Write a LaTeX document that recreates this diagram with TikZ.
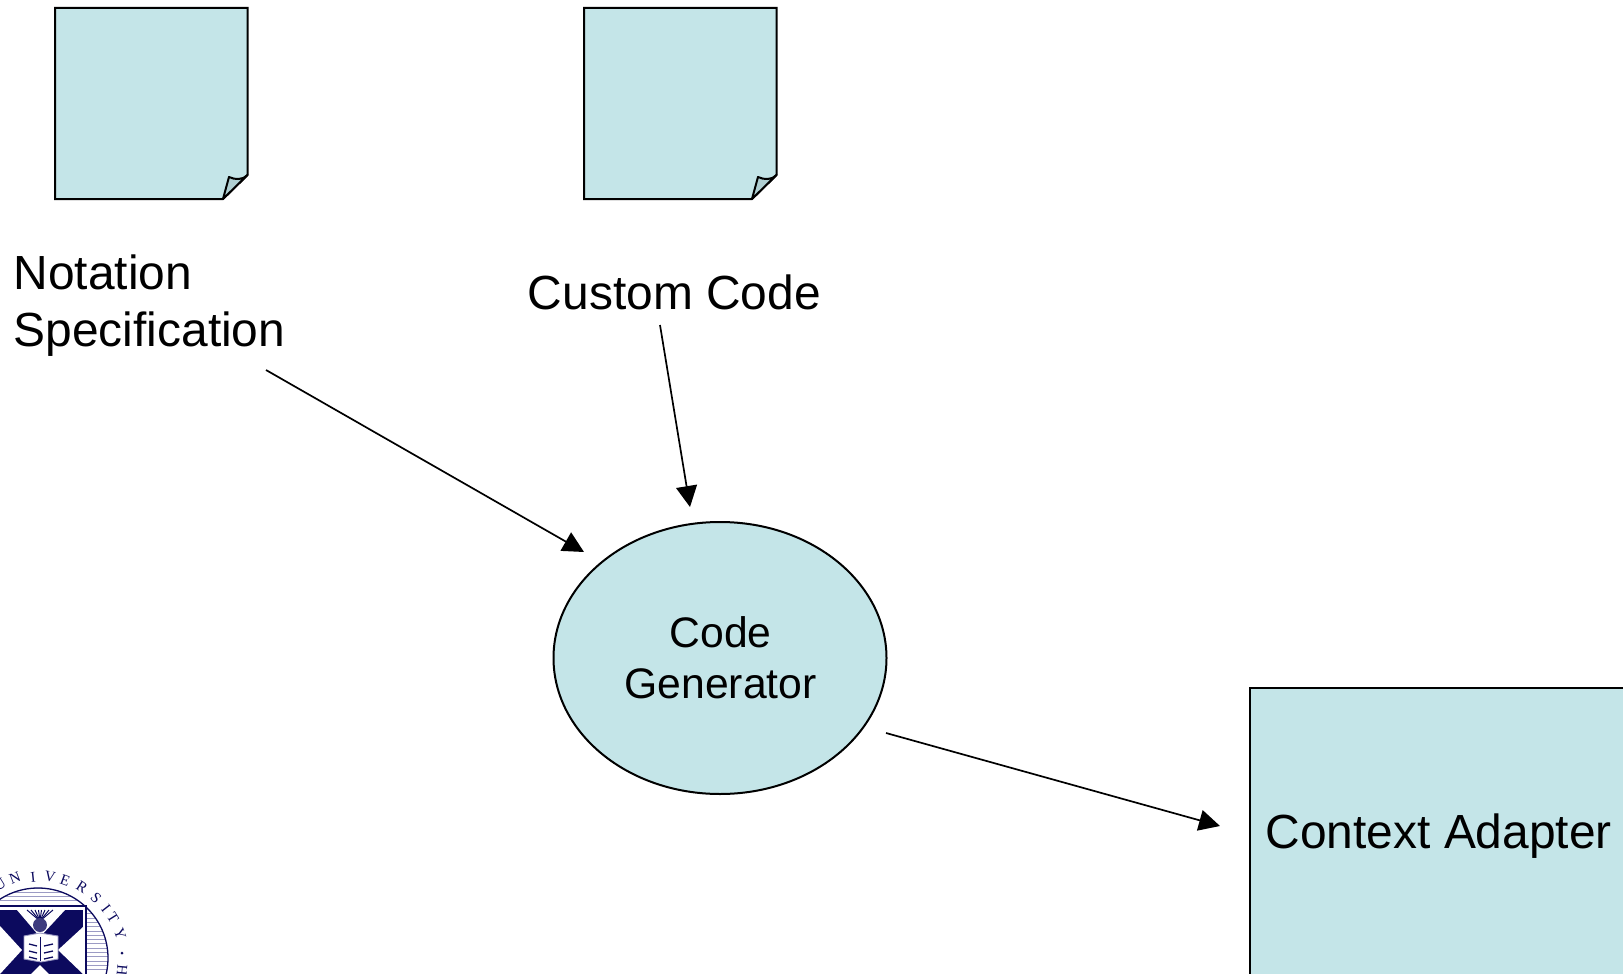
\documentclass[tikz,border=0pt]{standalone}
\usepackage{fontspec}
\setmainfont{Liberation Sans}
\newfontfamily\logoserif{Liberation Serif}
\usetikzlibrary{arrows.meta,shapes.geometric}
\definecolor{paleblue}{HTML}{C4E5E8}
\definecolor{curlblue}{HTML}{AFCFD2}
\definecolor{navy}{HTML}{0C0A5E}
\definecolor{hatch}{HTML}{9C9BC4}
\tikzset{
  x=1pt,y=-1pt,
  shapeline/.style={draw=black,line width=2pt,fill=paleblue,line join=miter},
  textlabel/.style={font=\fontsize{47.9}{57}\selectfont,align=left,inner sep=0pt,anchor=base west,text=black},
  flow/.style={draw=black,line width=1.7pt,-{Triangle[length=21pt,width=21pt]}},
  seal/.style={font=\logoserif\fontsize{15}{15}\selectfont,text=navy,inner sep=0pt},
}
\newcommand{\notepage}[1]{%
  \begin{scope}[shift={(#1,0)}]
    \draw[shapeline] (55,8) -- (247.5,8) -- (247.5,175) -- (223,199) -- (55,199) -- cycle;
    \draw[draw=black,line width=2pt,fill=curlblue,line join=round] (223,199) -- (229,177) .. controls (235,180) and (243,180) .. (247.5,175) -- cycle;
  \end{scope}}
\begin{document}
\begin{tikzpicture}
\useasboundingbox (0,0) rectangle (1623,974);
\fill[white] (0,0) rectangle (1623,974);
\notepage{0}
\notepage{529}
\node[textlabel] (spec) at (13.5,346) {Notation\\Specification};
\node[textlabel] (custom) at (527.7,309) {Custom Code};
\node[ellipse,shapeline,minimum width=333pt,minimum height=272pt,inner sep=0pt] (gen) at (720,658) {};
\node[font=\fontsize{42.7}{51}\selectfont,align=center,inner sep=0pt] (gentext) at (720.5,658) {Code\\Generator};
\path[shapeline] (1250,688) -- (1630,688) -- (1630,985) -- (1250,985) -- cycle;
\node[textlabel] (adapter) at (1265.5,848) {Context Adapter};
\coordinate (a1) at (266,370);
\coordinate (a2) at (584,552);
\coordinate (b1) at (660,325);
\coordinate (b2) at (690,507);
\coordinate (c1) at (886,733);
\coordinate (c2) at (1220,826);
\draw[flow] (a1) -- (a2);
\draw[flow] (b1) -- (b2);
\draw[flow] (c1) -- (c2);
% seal
\begin{scope}
\clip (0,840) rectangle (160,974);
\begin{scope}
\clip (38,958) circle (70);
\foreach \y in {888,892.3,...,976} \draw[hatch,line width=1pt] (0,\y) -- (110,\y);
\end{scope}
\draw[navy,line width=1.3pt] (38,958) circle (70);
\draw[navy,line width=1.2pt] (0,906) -- (86,906) -- (86,980);
\fill[white] (0,907) rectangle (85,980);
\fill[navy] (0,910) rectangle (83,980);
\fill[white] (17,910) -- (65,910) -- (40,937) -- cycle;
\fill[white] (83,927) -- (58,950) -- (83,974) -- cycle;
\fill[white] (0,926) -- (0,974) -- (22,950) -- cycle;
\fill[white] (40,965) -- (25,980) -- (55,980) -- cycle;
% thistle
\foreach \dx in {-13,-9,-5,-1.5,1.5,5,9,13}
  \draw[navy,line width=1pt] (40,921) -- ({40+\dx},910);
\fill[navy!80!white] (40,925) circle (7);
% book
\fill[white,draw=hatch,line width=0.9pt] (24,936) -- (40,933) -- (58,936) -- (58,959) -- (41,962) -- (24,959) -- cycle;
\draw[navy,line width=1.4pt] (40.5,937) -- (40.5,961);
\foreach \y in {944,951,957} {
  \draw[navy,line width=1.3pt] (29,\y) -- (37,{\y+2});
  \draw[navy,line width=1.3pt] (44,{\y+2}) -- (53,\y);
}
\foreach \t/\px/\py/\r in {U/0/885/-32,N/15/878/-21,I/33/877/-6,V/50/877/10,E/65/880/20,R/82/887/33,S/96/898/45,I/106/908/52,T/113/918/58,Y/120/934/70,H/122/970/95}
  \node[seal,rotate=-\r] at (\px,\py) {\t};
\fill[navy] (122,953) circle (1.5);
\end{scope}
\end{tikzpicture}
\end{document}
